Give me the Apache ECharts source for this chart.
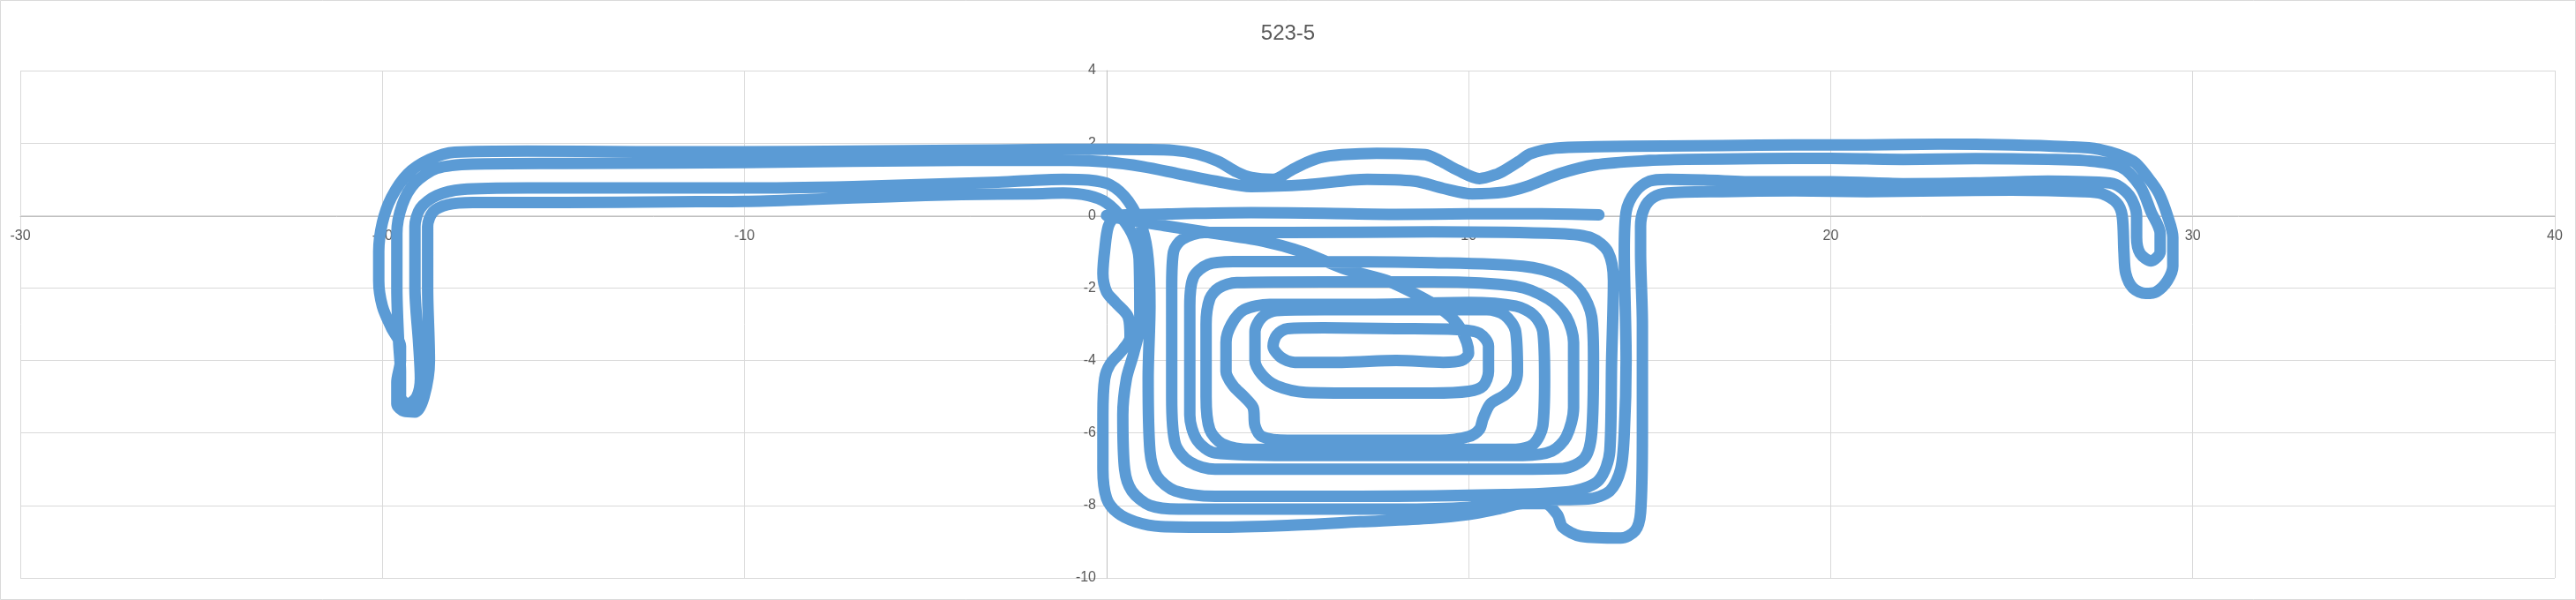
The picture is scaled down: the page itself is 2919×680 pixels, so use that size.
<!DOCTYPE html>
<html><head><meta charset="utf-8">
<script src="https://cdn.jsdelivr.net/npm/echarts@6/dist/echarts.min.js"></script>
<style>html,body{margin:0;padding:0;background:#fff}#c{width:2919px;height:680px}</style>
</head><body><div id="c"></div>
<script>
// ---- data (x, y) ----
const titleText = "523-5";
const xTicks = {min: -30, max: 40, interval: 10};
const yTicks = {min: -10, max: 4, interval: 2};

// diagonal from the origin into the centre of the spiral
const diagonal = [[0,0],[0.6,-0.12],[1.6,-0.28],[2.7,-0.45],[4.3,-0.7],[5.4,-1.0],[6.6,-1.48],[7.7,-1.78],[8.5,-2.15],[9.2,-2.55],[9.7,-3.0],[9.95,-3.5]];

// inner spiral, unwinding outward
const spiralInner = [[10.0,-3.8],[9.8,-4.0],[9.3,-4.05],[8,-4.0],[6.5,-4.05],[5.2,-4.05],[4.8,-3.9],[4.6,-3.6],[4.7,-3.3],[5.0,-3.12],[6,-3.1],[8,-3.12],[9.8,-3.15],[10.3,-3.25],[10.55,-3.6],[10.55,-4.3],[10.4,-4.7],[10.0,-4.85],[9,-4.9],[7,-4.9],[5.5,-4.88],[4.7,-4.7],[4.3,-4.4],[4.1,-4.0],[4.1,-3.2],[4.3,-2.8],[4.7,-2.62],[6,-2.6],[8,-2.6],[10.5,-2.6],[11.0,-2.75],[11.3,-3.2],[11.35,-4.3],[11.25,-4.7],[11.0,-4.95],[10.6,-5.2],[10.4,-5.6],[10.3,-5.9],[10.0,-6.1],[9.2,-6.2],[7,-6.2],[5,-6.2],[4.3,-6.1],[4.1,-5.8],[4.05,-5.3],[3.8,-5.0],[3.5,-4.7],[3.3,-4.3],[3.3,-3.5],[3.45,-3.0],[3.8,-2.6],[4.5,-2.45],[7,-2.45],[10,-2.4],[11.3,-2.5],[11.8,-2.75],[12.05,-3.2],[12.1,-4.5],[12.05,-5.8],[11.8,-6.3],[11.3,-6.45],[9,-6.45],[6,-6.45],[4,-6.45],[3.2,-6.3],[2.85,-5.9],[2.75,-5],[2.75,-3],[2.85,-2.3],[3.1,-2.0],[3.6,-1.85],[6,-1.83],[9,-1.83],[11.3,-1.95],[12.2,-2.3],[12.7,-2.8],[12.9,-3.5],[12.9,-5.3],[12.7,-6.1],[12.3,-6.5],[11.5,-6.62],[9,-6.62],[5,-6.62],[3,-6.55],[2.5,-6.2],[2.3,-5.5],[2.3,-2.5],[2.4,-1.7],[2.8,-1.35],[3.5,-1.27],[6,-1.27],[9,-1.3],[11.5,-1.4],[12.5,-1.65],[13.1,-2.1],[13.4,-2.8],[13.45,-4],[13.4,-6],[13.2,-6.7],[12.6,-6.98],[11,-7.0],[7,-7.0],[3,-7.0],[2.3,-6.8],[1.9,-6.3],[1.8,-5],[1.8,-2],[1.85,-1.0],[2.1,-0.65],[2.7,-0.47],[5,-0.47],[9,-0.45],[12.5,-0.5],[13.4,-0.62],[13.85,-1.0],[14.0,-1.8],[13.95,-4],[13.9,-6.5],[13.6,-7.3],[12.9,-7.6],[11,-7.7],[7,-7.75],[3,-7.75],[1.9,-7.6],[1.4,-7.2],[1.2,-6.5],[1.15,-4.5],[1.2,-2.5],[1.15,-1.2],[1.0,-0.4],[0.6,0.4],[0.1,0.85],[-0.5,0.98]];

// upper of the lower pair of bands, inner left U-turn, second top band
const bandUpperLeft = [[-1.2,1.0],[-3,0.92],[-5,0.86],[-7,0.8],[-10,0.76],[-13,0.76],[-16,0.76],[-17.8,0.72],[-18.5,0.55],[-18.95,0.2],[-19.1,-0.3],[-19.1,-2],[-19.0,-3.5],[-18.95,-4.5],[-19.05,-5.0],[-19.3,-5.2],[-19.5,-5.0],[-19.5,-4.3],[-19.55,-3.5],[-19.6,-2],[-19.6,-0.5],[-19.45,0.3],[-19.1,0.9],[-18.5,1.3],[-17.5,1.42],[-15,1.44],[-12,1.45],[-10,1.46],[-7,1.5],[-4,1.52],[-1,1.52]];
const bandSecondTop = [[0,1.48],[1,1.35],[2,1.15],[3,0.95],[4,0.8],[5.5,0.85],[7.2,1.0],[8.5,0.95],[9.3,0.75],[10.1,0.6],[11,0.65],[11.6,0.8],[12.5,1.15],[13.5,1.4],[15,1.52],[16,1.55],[18,1.57],[20,1.58],[22,1.55],[24,1.57],[26,1.55],[27,1.52],[28,1.35],[28.55,0.8],[28.85,0.1],[29.1,-0.5],[29.1,-1.0],[28.85,-1.25],[28.55,-1.05],[28.45,-0.6],[28.45,0],[28.25,0.55],[27.8,0.88],[27,0.93]];

// second-lowest right band, right vertical, bottom line, left vertical
const loopSecond = [[26,0.95],[24,0.9],[22,0.88],[20,0.93],[18,0.93],[16.5,0.98],[15.5,1.0],[15.0,0.95],[14.6,0.65],[14.35,0.1],[14.3,-1],[14.35,-4],[14.3,-6],[14.2,-7.0],[13.9,-7.6],[13.3,-7.82],[12,-7.85],[11,-7.92],[10,-8.05],[8,-8.1],[5,-8.1],[2,-8.1],[1.2,-8.0],[0.7,-7.6],[0.5,-7],[0.45,-5.5],[0.55,-4.5],[0.75,-3.8],[0.92,-3.0],[0.9,-1.2],[0.75,-0.6],[0.45,-0.1],[0,0.35],[-0.5,0.55],[-1.2,0.62]];

// lowest left band, outer left U-turn, top band, outer right U-turn
const bandLowerLeft = [[-2,0.6],[-4,0.58],[-6,0.52],[-8,0.45],[-10,0.39],[-12,0.38],[-15,0.36],[-17.5,0.36],[-18.2,0.3],[-18.6,0.1],[-18.75,-0.3],[-18.75,-2],[-18.7,-4.0],[-18.85,-5.0],[-19.1,-5.42],[-19.4,-5.4],[-19.6,-5.2],[-19.6,-4.6],[-19.5,-4.0],[-19.5,-3.6],[-19.75,-3.1],[-20.0,-2.5],[-20.1,-1.8],[-20.1,-1.0],[-20.0,-0.2],[-19.75,0.5],[-19.3,1.15],[-18.7,1.55],[-18.0,1.75],[-16,1.78]];
const bandTop = [[-13,1.76],[-10,1.76],[-7,1.78],[-4,1.8],[-2,1.82],[-0.6,1.83],[1,1.82],[1.85,1.8],[2.5,1.7],[3.07,1.5],[3.6,1.2],[4.0,1.05],[4.6,1.0],[5.1,1.25],[5.5,1.45],[5.9,1.6],[6.5,1.68],[7.46,1.72],[8.8,1.68],[9.2,1.52],[9.7,1.25],[10.3,1.02],[10.8,1.15],[11.0,1.25],[11.4,1.5],[11.7,1.7],[12.4,1.86],[13.5,1.9],[15.4,1.92],[17,1.93],[19,1.95],[21,1.95],[23,1.97],[25,1.95],[26.5,1.9],[27.4,1.83],[28.35,1.5],[28.8,1.0],[29.07,0.6],[29.3,0.0],[29.45,-0.6],[29.45,-1.4],[29.3,-1.8],[29.0,-2.1],[28.7,-2.15],[28.35,-2.0],[28.15,-1.6],[28.1,-1.0],[28.05,0.0],[27.9,0.35],[27.5,0.6],[27,0.66]];

// lowest right band, outer right vertical with notch, bottom line, left edge back to origin
const loopOuter = [[25,0.7],[23,0.68],[21,0.66],[19,0.68],[17,0.66],[15.5,0.62],[15.1,0.5],[14.85,0.2],[14.75,-0.3],[14.75,-1],[14.8,-3],[14.8,-6],[14.75,-8.2],[14.6,-8.7],[14.2,-8.9],[13.1,-8.85],[12.6,-8.6],[12.45,-8.25],[12.1,-7.95],[11.5,-7.95],[10.8,-8.1],[10,-8.25],[9,-8.35],[7,-8.45],[5,-8.55],[3,-8.6],[1.5,-8.58],[0.8,-8.45],[0.3,-8.2],[0.0,-7.8],[-0.1,-7.0],[-0.1,-5.5],[-0.05,-4.5],[0.1,-4.1],[0.45,-3.7],[0.65,-3.35],[0.6,-2.8],[0.25,-2.4],[0.0,-2.1],[-0.1,-1.6],[-0.05,-0.95],[0.05,-0.3],[0.25,-0.02]];

// final run along y = 0
const finalRun = [[0.6,0.02],[2,0.05],[4,0.08],[6,0.06],[8,0.03],[10,0.05],[12,0.05],[13.6,0.02]];

const pathData = [].concat(diagonal, spiralInner, bandUpperLeft, bandSecondTop, loopSecond, bandLowerLeft, bandTop, loopOuter, finalRun);

const chart = echarts.init(document.getElementById('c'));
const FONT = '"Liberation Sans", Arial, sans-serif';
chart.setOption({
  animation: false,
  backgroundColor: '#ffffff',
  title: {text: titleText, left: 'center', top: 21,
    textStyle: {fontFamily: FONT, fontSize: 24, fontWeight: 'normal', color: '#595959'}},
  grid: {left: 23, right: 24, top: 80, bottom: 25},
  xAxis: {type: 'value', min: xTicks.min, max: xTicks.max, interval: xTicks.interval,
    position: 'bottom', offset: -410,
    axisLine: {show: true, onZero: false, lineStyle: {color: '#bfbfbf', width: 1}},
    axisTick: {show: false},
    axisLabel: {color: '#595959', fontFamily: FONT, fontSize: 16, margin: 15, showMinLabel: true, showMaxLabel: true},
    splitLine: {show: true, lineStyle: {color: '#d9d9d9', width: 1}}},
  yAxis: {type: 'value', min: yTicks.min, max: yTicks.max, interval: yTicks.interval,
    position: 'left', offset: -1231,
    axisLine: {show: true, onZero: false, lineStyle: {color: '#bfbfbf', width: 1}},
    axisTick: {show: false},
    axisLabel: {color: '#595959', fontFamily: FONT, fontSize: 16, margin: 12, showMinLabel: true, showMaxLabel: true},
    splitLine: {show: true, lineStyle: {color: '#d9d9d9', width: 1}}},
  graphic: [{type: 'rect', shape: {x: 0.5, y: 0.5, width: 2918, height: 679}, style: {fill: null, stroke: '#d9d9d9', lineWidth: 1}, silent: true}],
  series: [{type: 'line', data: pathData, showSymbol: false, smooth: 0.3, z: 3,
    lineStyle: {color: '#5b9bd5', width: 13, cap: 'round', join: 'round'}}]
});
</script></body></html>
